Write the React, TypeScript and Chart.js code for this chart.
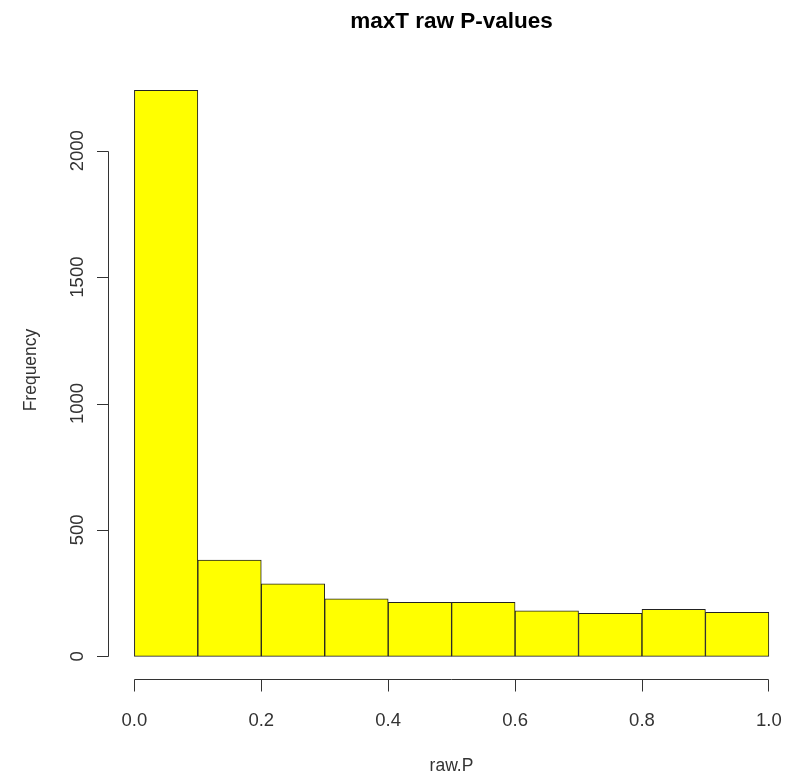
import React, { useEffect, useRef } from "react";
import { Chart, registerables } from "chart.js";

Chart.register(...registerables);

const binEdges = [0, 0.1, 0.2, 0.3, 0.4, 0.5, 0.6, 0.7, 0.8, 0.9, 1.0];
const counts = [2239, 381, 287, 228, 214, 214, 180, 170, 186, 174];
const xTicks = [0, 0.2, 0.4, 0.6, 0.8, 1.0];
const xTickLabels = ["0.0", "0.2", "0.4", "0.6", "0.8", "1.0"];
const yTicks = [0, 500, 1000, 1500, 2000];
const yTickLabels = ["0", "500", "1000", "1500", "2000"];
const titleText = "maxT raw P-values";
const xTitle = "raw.P";
const yTitle = "Frequency";

const FONT = "'Liberation Sans', Arial, sans-serif";

const rAxesPlugin = {
  id: "rAxes",
  afterDraw(chart: any) {
    const ctx = chart.ctx as CanvasRenderingContext2D;
    const xs = chart.scales.x;
    const ys = chart.scales.y;
    const area = chart.chartArea;
    ctx.save();
    ctx.strokeStyle = "#333333";
    ctx.fillStyle = "#333333";
    ctx.lineWidth = 1;

    // y axis
    const ax = Math.round(area.left) - 0.5;
    const yTop = Math.round(ys.getPixelForValue(yTicks[yTicks.length - 1])) + 0.5;
    const yBot = Math.round(ys.getPixelForValue(yTicks[0])) + 0.5;
    ctx.beginPath();
    ctx.moveTo(ax, yTop);
    ctx.lineTo(ax, yBot);
    yTicks.forEach((v) => {
      const py = Math.round(ys.getPixelForValue(v)) + 0.5;
      ctx.moveTo(ax, py);
      ctx.lineTo(ax - 11.5, py);
    });
    ctx.stroke();

    ctx.font = `18.5px ${FONT}`;
    ctx.textAlign = "center";
    ctx.textBaseline = "alphabetic";
    yTicks.forEach((v, i) => {
      const py = ys.getPixelForValue(v);
      ctx.save();
      ctx.translate(83, py);
      ctx.rotate(-Math.PI / 2);
      ctx.fillText(yTickLabels[i], 0, 0);
      ctx.restore();
    });

    // x axis
    const by = Math.round(area.bottom) + 0.5;
    const xL = Math.round(xs.getPixelForValue(xTicks[0])) + 0.5;
    const xR = Math.round(xs.getPixelForValue(xTicks[xTicks.length - 1])) - 0.5;
    ctx.beginPath();
    ctx.moveTo(xL, by);
    ctx.lineTo(xR, by);
    xTicks.forEach((v, i) => {
      let px = Math.round(xs.getPixelForValue(v)) + 0.5;
      if (i === xTicks.length - 1) px = xR;
      ctx.moveTo(px, by);
      ctx.lineTo(px, by + 12);
    });
    ctx.stroke();
    xTicks.forEach((v, i) => {
      const px = xs.getPixelForValue(v);
      ctx.fillText(xTickLabels[i], px, 726);
    });

    // axis titles
    ctx.font = `17.5px ${FONT}`;
    ctx.fillText(xTitle, (xL + xR) / 2, 771);
    ctx.save();
    ctx.translate(36, 370);
    ctx.rotate(-Math.PI / 2);
    ctx.fillText(yTitle, 0, 0);
    ctx.restore();

    // main title
    ctx.fillStyle = "#000000";
    ctx.font = `bold 22.5px ${FONT}`;
    ctx.fillText(titleText, (xL + xR) / 2, 28);
    ctx.restore();
  },
};

export default function App() {
  const ref = useRef<HTMLCanvasElement | null>(null);

  useEffect(() => {
    document.body.style.margin = "0";
    const canvas = ref.current;
    if (!canvas) return;
    const yMax = Math.max(...counts);
    const data = counts.map((c, i) => ({ x: (binEdges[i] + binEdges[i + 1]) / 2, y: c }));
    const chart = new Chart(canvas, {
      type: "bar",
      data: {
        datasets: [
          {
            data,
            backgroundColor: "#FFFF00",
            borderColor: "#222222",
            borderWidth: 1,
            borderSkipped: false,
            barPercentage: 1,
            categoryPercentage: 1,
          } as any,
        ],
      },
      options: {
        animation: false,
        responsive: false,
        maintainAspectRatio: false,
        layout: { padding: { left: 109, top: 67.6, right: 0, bottom: 96 } },
        plugins: { legend: { display: false }, tooltip: { enabled: false }, title: { display: false } },
        scales: {
          x: {
            type: "linear",
            min: -0.04,
            max: 1.027,
            offset: false,
            display: false,
            grid: { display: false, offset: false },
          },
          y: {
            type: "linear",
            min: -0.04 * yMax,
            max: 1.04 * yMax,
            display: false,
            grid: { display: false },
          },
        },
      },
      plugins: [rAxesPlugin],
    });
    return () => chart.destroy();
  }, []);

  return (
    <div style={{ width: 786, height: 775, background: "#fff" }}>
      <canvas ref={ref} width={786} height={775} style={{ display: "block" }} />
    </div>
  );
}
